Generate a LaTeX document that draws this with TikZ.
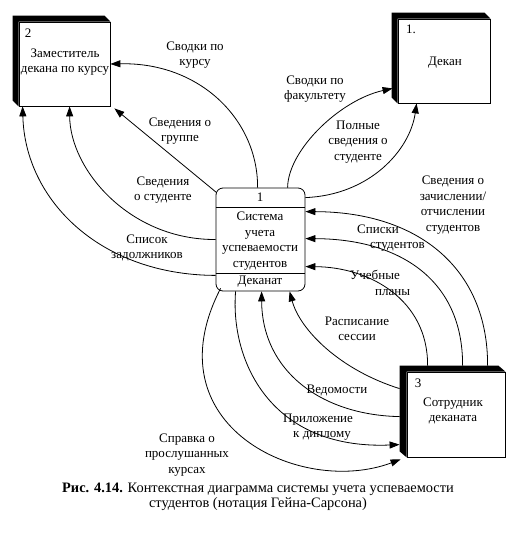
\documentclass[tikz,border=0pt]{standalone}
\usepackage{fontspec}
\setmainfont{Liberation Serif}
\usetikzlibrary{calc,arrows.meta}
\begin{document}
\begin{tikzpicture}[x=1pt,y=-1pt,
  font=\fontsize{13}{15.5}\selectfont,
  flow/.style={draw, line width=0.8pt, -{Triangle[length=10pt,width=7pt]}},
  lbl/.style={align=center, inner sep=0pt},
  lbll/.style={align=left, inner sep=0pt, anchor=west},
  ent/.style={draw, line width=0.8pt, fill=white, inner sep=0pt},
  proc/.style={draw, line width=0.8pt, rounded corners=7pt, inner sep=0pt, minimum width=89pt, minimum height=103pt},
  shadowfill/.style={fill=black}
]
\useasboundingbox[fill=white] (0,0) rectangle (518,536);

% ---------- external entities ----------
\node[ent, minimum width=91pt, minimum height=84pt] (e2) at (64.5,64) {};
\fill[shadowfill] ($(e2.north west)+(-6,-6)$) -- ($(e2.north east)+(-6,-6)$) -- (e2.north east) -- (e2.north west) -- (e2.south west) -- ($(e2.south west)+(-6,-6)$) -- cycle;
\node[lbl] (e2n) at (28,33) {2};
\node[lbl] (e2t) at (65,62) {Заместитель\\декана по курсу};

\node[ent, minimum width=92pt, minimum height=84pt] (e1) at (444,61) {};
\fill[shadowfill] ($(e1.north west)+(-6,-6)$) -- ($(e1.north east)+(-6,-6)$) -- (e1.north east) -- (e1.north west) -- (e1.south west) -- ($(e1.south west)+(-6,-6)$) -- cycle;
\node[lbl] (e1n) at (411,29) {1.};
\node[lbl] (e1t) at (445,63) {Декан};

\node[ent, minimum width=98pt, minimum height=85pt] (e3) at (456,414.5) {};
\fill[shadowfill] ($(e3.north west)+(-7,-6)$) -- ($(e3.north east)+(-7,-6)$) -- (e3.north east) -- (e3.north west) -- (e3.south west) -- ($(e3.south west)+(-7,-6)$) -- cycle;
\node[lbl] (e3n) at (418,383) {3};
\node[lbl] (e3t) at (453,411) {Сотрудник\\деканата};

% ---------- process ----------
\node[proc] (p) at (260.5,239.5) {};
\draw[line width=0.8pt] ($(p.north west)+(0,20)$) -- ($(p.north east)+(0,20)$);
\draw[line width=0.8pt] ($(p.south west)+(0,-18)$) -- ($(p.south east)+(0,-18)$);
\node[lbl] (pn) at (260,197) {1};
\node[lbl] (pt) at (260,241) {Система\\учета\\успеваемости\\студентов};
\node[lbl] (pd) at (260,282) {Деканат};

% ---------- flows ----------
% to entity 2
\draw[flow] ($(p.north west)+(42,0)$) .. controls (258,120) and (200,62) .. (e2.east);
\draw[flow] ($(p.north west)+(1,5)$) -- ($(e2.south east)+(4,2)$);
\draw[flow] (p.west) .. controls (130,240) and (70,170) .. ($(e2.south west)+(51,0)$);
\draw[flow] ($(p.south west)+(0,-16)$) .. controls (100,275) and (25,200) .. ($(e2.south west)+(4,0)$);
% to entity 1
\draw[flow] ($(p.north west)+(72,0)$) .. controls (288,150) and (340,100) .. ($(e1.south west)+(-5,-15)$);
\draw[flow] ($(p.north east)+(0,10)$) .. controls (370,195) and (410,150) .. ($(e1.south west)+(19,0)$);
% from entity 3
\draw[flow] ($(e3.north west)+(81,-6)$) .. controls (488,270) and (420,212) .. ($(p.north east)+(0,24)$);
\draw[flow] ($(e3.north west)+(56,-6)$) .. controls (463,280) and (400,239) .. ($(p.north east)+(0,51)$);
\draw[flow] ($(e3.north west)+(21,-6)$) .. controls (428,300) and (370,267) .. ($(p.north east)+(0,79)$);
\draw[flow] ($(e3.north west)+(-7,17)$) .. controls (340,370) and (300,330) .. ($(p.south west)+(74,0)$);
\draw[flow] ($(e3.north west)+(-7,45)$) .. controls (320,415) and (262,370) .. ($(p.south west)+(46,0)$);
% to entity 3
\draw[flow] ($(p.south west)+(20,0)$) .. controls (230,360) and (270,450) .. ($(e3.north west)+(-7,73)$);
\draw[flow] ($(p.south west)+(5,-3)$) .. controls (150,425) and (300,497) .. ($(e3.south west)+(-6,2)$);

% ---------- labels ----------
\node[lbl] (l1) at (195,55) {Сводки по\\курсу};
\node[lbl] (l2) at (180,131) {Сведения о\\группе};
\node[lbl] (l3) at (163,190) {Сведения\\о студенте};
\node[lbl] (l4) at (147,248) {Список\\задолжников};
\node[lbl] (l5) at (315,89) {Сводки по\\факультету};
\node[lbl] (l6) at (358,142) {Полные\\сведения о\\студенте};
\node[lbl] (l7) at (453,205) {Сведения о\\зачислении/\\отчислении\\студентов};
\node[lbll] (l8) at (357,238) {Списки\\\hspace*{13pt}студентов};
\node[lbll] (l9) at (350,283) {Учебные\\\hspace*{25pt}планы};
\node[lbl] (l10) at (357,329) {Расписание\\сессии};
\node[lbl] (l11) at (337,390) {Ведомости};
\node[lbll] (l12) at (283,427) {Приложение\\\hspace*{10pt}к диплому};
\node[lbl] (l13) at (187,455) {Справка о\\прослушанных\\курсах};

% ---------- caption ----------
\node[lbl, font=\fontsize{14.4}{15.5}\selectfont] (cap) at (258,497) {\textbf{Рис. 4.14.} Контекстная диаграмма системы учета успеваемости\\студентов (нотация Гейна-Сарсона)};
\end{tikzpicture}
\end{document}
